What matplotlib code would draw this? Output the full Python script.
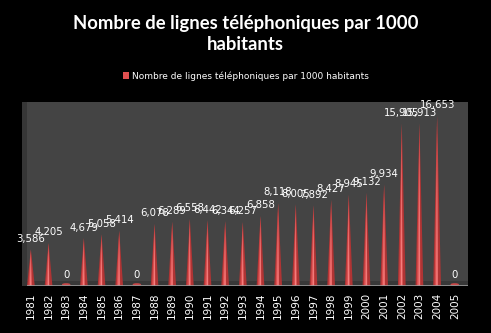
import matplotlib
matplotlib.use("Agg")
import matplotlib.pyplot as plt
from matplotlib.patches import Ellipse, Patch, Rectangle

years = ["1981", "1982", "1983", "1984", "1985", "1986", "1987", "1988", "1989",
         "1990", "1991", "1992", "1993", "1994", "1995", "1996", "1997", "1998",
         "1999", "2000", "2001", "2002", "2003", "2004", "2005"]
values = [3586, 4205, 0, 4679, 5058, 5414, 0, 6078, 6289, 6558, 6442, 6344, 6257,
          6858, 8118, 8005, 7892, 8427, 8945, 9132, 9934, 15905, 15913, 16653, 0]
labels = ["3,586", "4,205", "0", "4,679", "5,058", "5,414", "0", "6,078", "6,289",
          "6,558", "6,442", "6,344", "6,257", "6,858", "8,118", "8,005", "7,892",
          "8,427", "8,945", "9,132", "9,934", "15,905", "15,913", "16,653", "0"]
series_name = "Nombre de lignes téléphoniques par 1000 habitants"
title = "Nombre de lignes téléphoniques par 1000\nhabitants"

W, H = 491, 333
fig = plt.figure(figsize=(W / 100, H / 100), dpi=100, facecolor="black")

# side wall
side = fig.add_axes([22 / W, (H - 286) / H, 6 / W, (286 - 102) / H])
side.set_facecolor("#363636")
side.set_xticks([]); side.set_yticks([])
for s in side.spines.values():
    s.set_visible(False)

ax = fig.add_axes([27 / W, (H - 286) / H, (468 - 27) / W, (286 - 102) / H])
ax.set_facecolor("#444444")
ax.set_xlim(-0.22, 24.75)
ax.set_ylim(0, 18000)
for s in ax.spines.values():
    s.set_visible(False)

# floor strip
ax.add_patch(Rectangle((-0.22, 0), 25, 450, facecolor="#383838", edgecolor="none", zorder=1))

w = 0.44
for i, v in enumerate(values):
    if v > 0:
        ax.fill([i - w / 2, i, i + w / 2], [0, v, 0], color="#b03434", zorder=3, lw=0)
        ax.fill([i - w / 3.2, i, i + w / 8], [0, v, 0], color="#dc5050", zorder=4, lw=0)
        ax.fill([i - w / 9, i, i + w / 16], [0, v * 0.9, 0], color="#f58080", zorder=5, lw=0)
        ax.add_patch(Ellipse((i, 0), w, 250, facecolor="#b03434", edgecolor="none", zorder=3))
    else:
        ax.add_patch(Ellipse((i, 150), w * 1.1, 250, angle=0, facecolor="#c84848",
                             edgecolor="none", zorder=3))
    ax.annotate(labels[i], (i, v), xytext=(0, 4), textcoords="offset points",
                ha="center", va="bottom", color="white", fontsize=7.3, zorder=6,
                annotation_clip=False)

ax.axhline(0, color="#9a9a9a", lw=1.2, zorder=6)
ax.set_xticks(range(len(years)))
ax.set_xticklabels(years, rotation=90, color="white", fontsize=7.5)
ax.tick_params(axis="x", length=0, pad=5)
ax.set_yticks([])

fig.text(0.5, 1 - 34 / H, title, ha="center", va="center", color="white",
         fontsize=13.3, fontweight="bold", family="Lato", linespacing=1.25)

handle = Patch(facecolor="#e05050", edgecolor="none")
leg = fig.legend([handle], [series_name], loc="center", bbox_to_anchor=(0.5, 1 - 76 / H),
                 frameon=False, fontsize=6.5, handlelength=0.7, handleheight=0.7,
                 handletextpad=0.3, labelcolor="white")

fig.savefig("out.png", dpi=100, facecolor="black")
